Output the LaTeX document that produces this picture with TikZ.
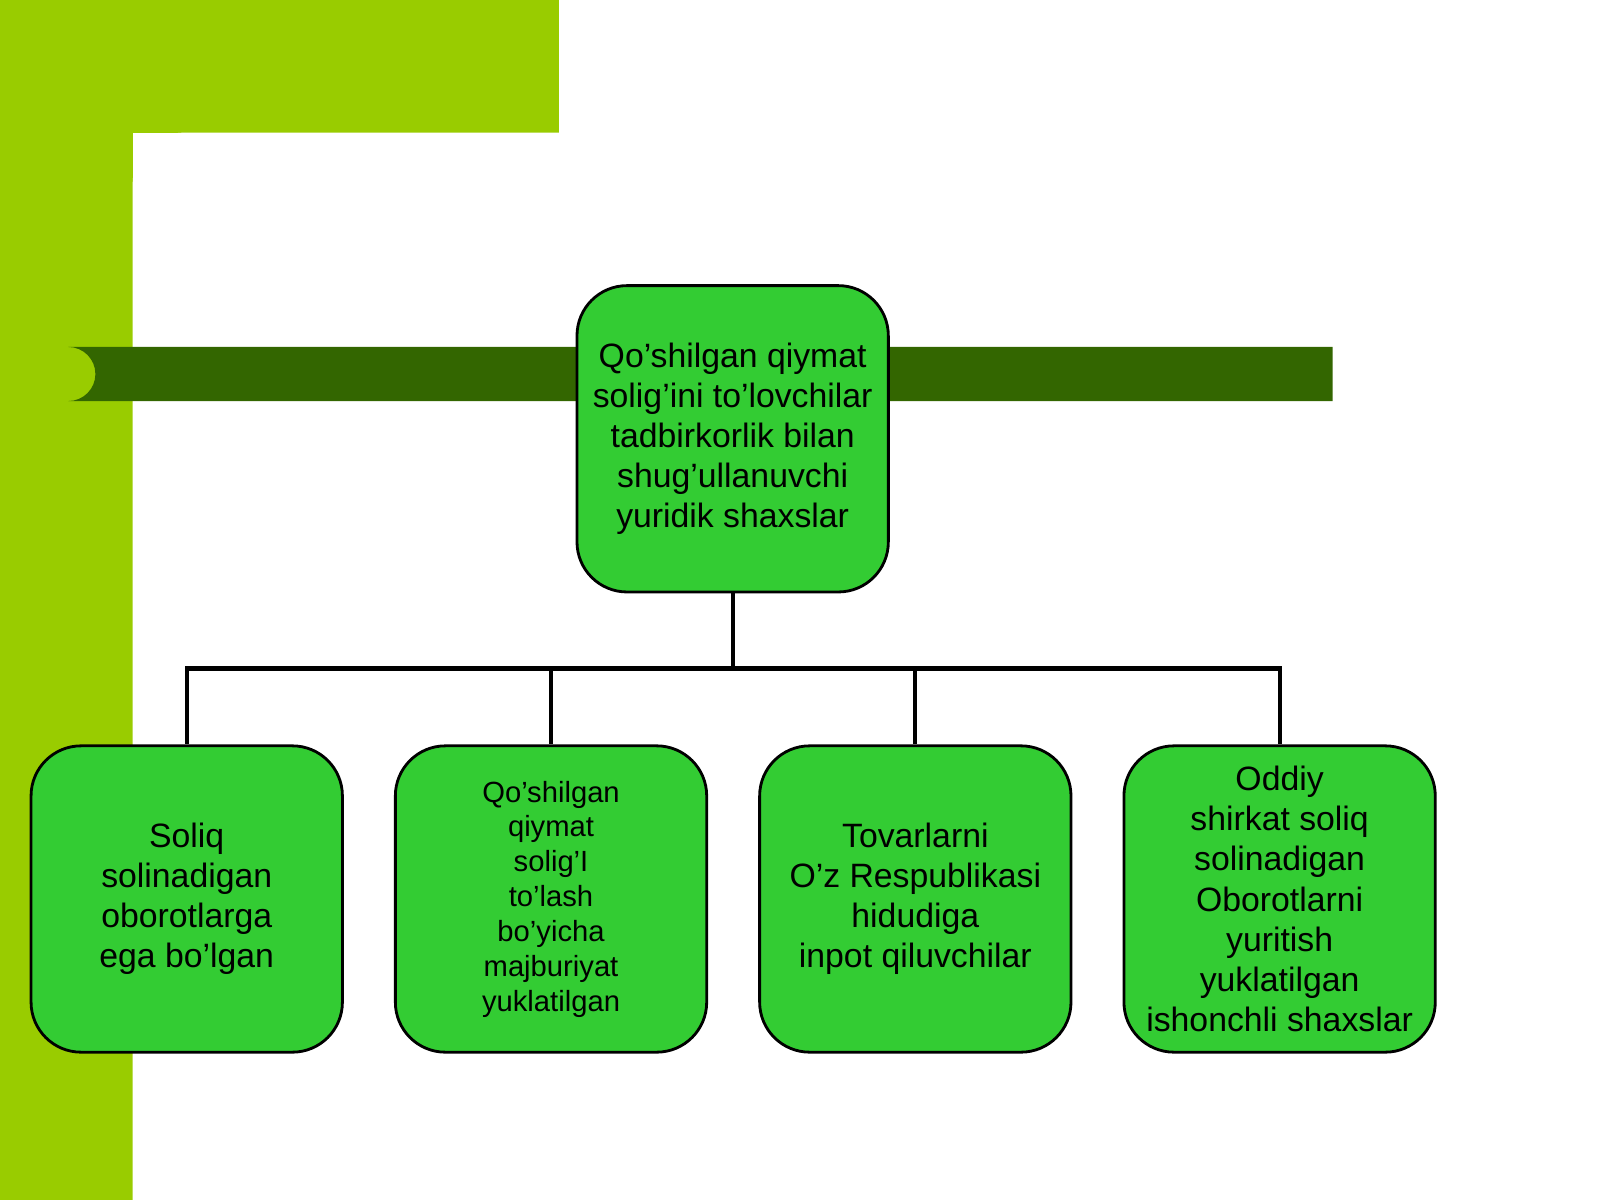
\documentclass[tikz,border=0pt]{standalone}
\usepackage{fontspec}
\setmainfont{Liberation Sans}
\usetikzlibrary{positioning}
\definecolor{lime}{HTML}{99CC00}
\definecolor{bargreen}{HTML}{336600}
\definecolor{boxgreen}{HTML}{33CC33}
\tikzset{
  box/.style={draw=black, thick, fill=boxgreen, rounded corners=0.5cm,
    minimum width=3.11cm, minimum height=3.06cm, align=center,
    font=\fontsize{9.6}{11.4}\selectfont},
  link/.style={very thick}
}
\begin{document}
\begin{tikzpicture}[x=0.0102cm,y=-0.0102cm]
\useasboundingbox (0,0) rectangle (1568,1176);
% background
\fill[lime] (0,0) rectangle (548,130);
\fill[lime] (0,0) rectangle (130,1176);
\fill[white] (130,1176) -- (130,180) arc[start angle=180,end angle=90,radius=0.51cm] -- (548,130) -- (548,0) -- (1568,0) -- (1568,1176) -- cycle;
% bar
\fill[bargreen] (67,340) -- (1306,340) -- (1306,393) -- (67,393) arc[start angle=90,end angle=270,radius=-0.27cm] -- cycle;
\node[box] (top) at (718,430) {Qo’shilgan qiymat\\solig’ini to’lovchilar\\tadbirkorlik bilan\\shug’ullanuvchi\\ yuridik shaxslar};
\node[box] (b1) at (183,881) {Soliq\\ solinadigan\\ oborotlarga\\ ega bo’lgan};
\node[box, font=\fontsize{8.3}{9.9}\selectfont] (b2) at (540,881) {Qo’shilgan\\ qiymat\\ solig’I\\ to’lash\\ bo’yicha\\ majburiyat\\ yuklatilgan};
\node[box] (b3) at (897,881) {Tovarlarni\\ O’z Respublikasi\\ hidudiga\\ inpot qiluvchilar};
\node[box] (b4) at (1254,881) {Oddiy\\ shirkat soliq\\ solinadigan\\ Oborotlarni\\ yuritish\\ yuklatilgan\\ ishonchli shaxslar};
\coordinate (j) at (718,655);
\draw[link] (top.south) -- (j);
\foreach \b in {b1,b2,b3,b4}
  \draw[link] (j) -| (\b.north);
\end{tikzpicture}
\end{document}
